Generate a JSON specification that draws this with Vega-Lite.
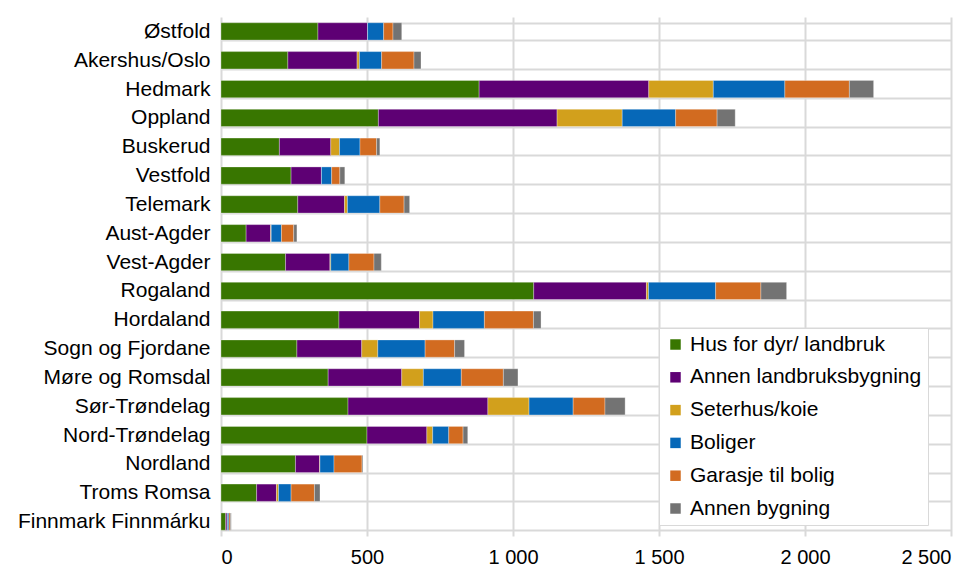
{
  "$schema": "https://vega.github.io/schema/vega-lite/v6.json",
  "width": 730,
  "height": 519,
  "autosize": {"type": "none"},
  "padding": {"left": 221, "top": 17, "right": 28, "bottom": 33},
  "background": "white",
  "config": {
    "view": {"stroke": null},
    "font": "Liberation Sans"
  },
  "data": {
    "values": [
      {"fylke": "Østfold", "Hus for dyr/ landbruk": 332, "Annen landbruksbygning": 170, "Seterhus/koie": 0, "Boliger": 55, "Garasje til bolig": 32, "Annen bygning": 30},
      {"fylke": "Akershus/Oslo", "Hus for dyr/ landbruk": 229, "Annen landbruksbygning": 237, "Seterhus/koie": 8, "Boliger": 76, "Garasje til bolig": 111, "Annen bygning": 24},
      {"fylke": "Hedmark", "Hus for dyr/ landbruk": 884, "Annen landbruksbygning": 581, "Seterhus/koie": 221, "Boliger": 245, "Garasje til bolig": 221, "Annen bygning": 83},
      {"fylke": "Oppland", "Hus for dyr/ landbruk": 539, "Annen landbruksbygning": 612, "Seterhus/koie": 223, "Boliger": 183, "Garasje til bolig": 142, "Annen bygning": 62},
      {"fylke": "Buskerud", "Hus for dyr/ landbruk": 200, "Annen landbruksbygning": 176, "Seterhus/koie": 30, "Boliger": 70, "Garasje til bolig": 57, "Annen bygning": 11},
      {"fylke": "Vestfold", "Hus for dyr/ landbruk": 240, "Annen landbruksbygning": 104, "Seterhus/koie": 0, "Boliger": 35, "Garasje til bolig": 28, "Annen bygning": 17},
      {"fylke": "Telemark", "Hus for dyr/ landbruk": 263, "Annen landbruksbygning": 160, "Seterhus/koie": 10, "Boliger": 111, "Garasje til bolig": 83, "Annen bygning": 19},
      {"fylke": "Aust-Agder", "Hus for dyr/ landbruk": 86, "Annen landbruksbygning": 84, "Seterhus/koie": 2, "Boliger": 35, "Garasje til bolig": 42, "Annen bygning": 11},
      {"fylke": "Vest-Agder", "Hus for dyr/ landbruk": 221, "Annen landbruksbygning": 152, "Seterhus/koie": 3, "Boliger": 62, "Garasje til bolig": 86, "Annen bygning": 25},
      {"fylke": "Rogaland", "Hus for dyr/ landbruk": 1071, "Annen landbruksbygning": 386, "Seterhus/koie": 7, "Boliger": 230, "Garasje til bolig": 155, "Annen bygning": 88},
      {"fylke": "Hordaland", "Hus for dyr/ landbruk": 404, "Annen landbruksbygning": 276, "Seterhus/koie": 46, "Boliger": 176, "Garasje til bolig": 168, "Annen bygning": 26},
      {"fylke": "Sogn og Fjordane", "Hus for dyr/ landbruk": 260, "Annen landbruksbygning": 222, "Seterhus/koie": 55, "Boliger": 162, "Garasje til bolig": 101, "Annen bygning": 34},
      {"fylke": "Møre og Romsdal", "Hus for dyr/ landbruk": 367, "Annen landbruksbygning": 252, "Seterhus/koie": 74, "Boliger": 130, "Garasje til bolig": 144, "Annen bygning": 50},
      {"fylke": "Sør-Trøndelag", "Hus for dyr/ landbruk": 435, "Annen landbruksbygning": 479, "Seterhus/koie": 141, "Boliger": 151, "Garasje til bolig": 109, "Annen bygning": 69},
      {"fylke": "Nord-Trøndelag", "Hus for dyr/ landbruk": 500, "Annen landbruksbygning": 205, "Seterhus/koie": 20, "Boliger": 55, "Garasje til bolig": 49, "Annen bygning": 16},
      {"fylke": "Nordland", "Hus for dyr/ landbruk": 255, "Annen landbruksbygning": 83, "Seterhus/koie": 1, "Boliger": 48, "Garasje til bolig": 96, "Annen bygning": 3},
      {"fylke": "Troms Romsa", "Hus for dyr/ landbruk": 122, "Annen landbruksbygning": 68, "Seterhus/koie": 7, "Boliger": 43, "Garasje til bolig": 80, "Annen bygning": 19},
      {"fylke": "Finnmark Finnmárku", "Hus for dyr/ landbruk": 16, "Annen landbruksbygning": 5, "Seterhus/koie": 1, "Boliger": 5, "Garasje til bolig": 5, "Annen bygning": 3}
    ]
  },
  "transform": [
    {"fold": ["Hus for dyr/ landbruk", "Annen landbruksbygning", "Seterhus/koie", "Boliger", "Garasje til bolig", "Annen bygning"], "as": ["type", "antall"]},
    {"calculate": "indexof(['Hus for dyr/ landbruk', 'Annen landbruksbygning', 'Seterhus/koie', 'Boliger', 'Garasje til bolig', 'Annen bygning'], datum.type)", "as": "rekkefolge"}
  ],
  "mark": {"type": "bar", "stroke": "white", "strokeWidth": 0.5, "strokeOpacity": 0.6},
  "encoding": {
    "y": {
      "field": "fylke",
      "type": "nominal",
      "sort": null,
      "scale": {"paddingInner": 0.4, "paddingOuter": 0.2},
      "axis": {
        "title": null,
        "ticks": false,
        "labelPadding": 11,
        "labelFont": "Liberation Sans",
        "labelFontSize": 21,
        "labelColor": "#000000",
        "labelLimit": 300,
        "grid": true,
        "tickBand": "extent",
        "gridColor": "#d9d9d9",
        "gridWidth": 2,
        "domain": false
      }
    },
    "x": {
      "field": "antall",
      "type": "quantitative",
      "stack": "zero",
      "scale": {"domain": [0, 2500], "nice": false},
      "axis": {
        "title": null,
        "values": [0, 500, 1000, 1500, 2000, 2500],
        "labelExpr": "replace(format(datum.value, ','), ',', ' ')",
        "labelFont": "Liberation Sans",
        "labelFontSize": 20,
        "labelColor": "#000000",
        "ticks": false,
        "domain": false,
        "labelPadding": 11,
        "grid": true,
        "gridColor": "#d9d9d9",
        "gridWidth": 2
      }
    },
    "color": {
      "field": "type",
      "type": "nominal",
      "scale": {
        "domain": ["Hus for dyr/ landbruk", "Annen landbruksbygning", "Seterhus/koie", "Boliger", "Garasje til bolig", "Annen bygning"],
        "range": ["#387600", "#5E0074", "#D2A01C", "#0668B8", "#D26B20", "#737373"]
      },
      "legend": {
        "title": null,
        "orient": "none",
        "legendX": 438,
        "legendY": 311,
        "symbolType": "square",
        "symbolSize": 110,
        "symbolStrokeWidth": 0,
        "labelOffset": 4,
        "labelFont": "Liberation Sans",
        "labelFontSize": 21,
        "labelColor": "#000000",
        "rowPadding": 10.8,
        "padding": 6,
        "fillColor": "white",
        "strokeColor": "#d9d9d9",
        "labelLimit": 400
      }
    },
    "order": {"field": "rekkefolge", "type": "quantitative"}
  }
}
